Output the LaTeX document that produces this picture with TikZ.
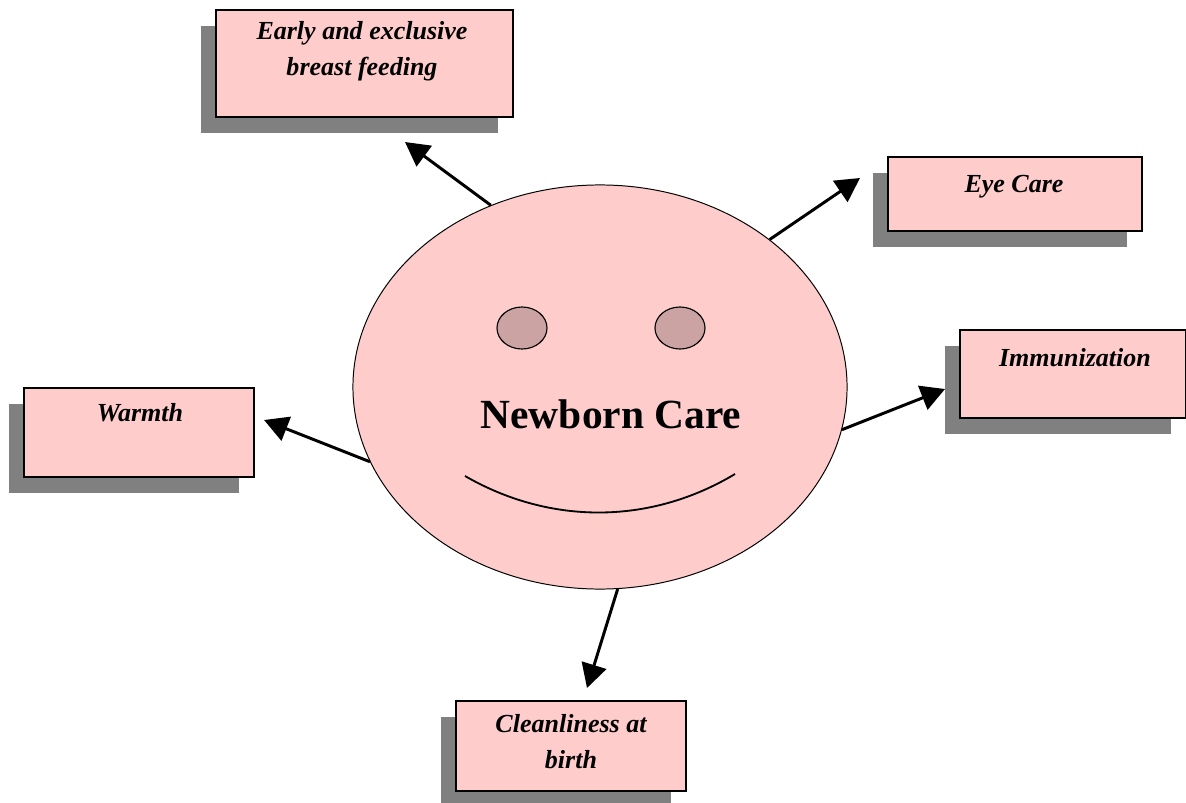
\documentclass[tikz,border=0pt]{standalone}
\usepackage{fontspec}
\setmainfont{Liberation Serif}
\usetikzlibrary{arrows.meta, positioning, shapes.geometric, shadows}
\definecolor{facepink}{HTML}{FFCCCC}
\definecolor{eyebrown}{HTML}{CCA3A3}
\definecolor{shadegray}{HTML}{808080}

\begin{document}
\begin{tikzpicture}[
      x=0.025cm, y=-0.025cm,
      card/.style={draw, fill=facepink, line width=0.9pt, inner sep=0pt,
                   drop shadow={shadow xshift=-0.375cm, shadow yshift=-0.39cm,
                                fill=shadegray, opacity=1}},
      cardtext/.style={anchor=base, align=center, inner sep=0pt,
                       font=\fontsize{18.5}{25}\selectfont\bfseries\itshape},
      eyeball/.style={ellipse, draw, fill=eyebrown, line width=0.8pt,
                      minimum width=1.25cm, minimum height=1.05cm, inner sep=0pt},
      arr/.style={-{Triangle[length=17pt, width=18pt]}, line width=2.1pt}
    ]
    \useasboundingbox (0,0) rectangle (1186,803);
    % the face
    \node[ellipse, draw, fill=facepink, line width=0.7pt, inner sep=0pt,
          minimum width=12.35cm, minimum height=10.1cm] (face) at (600,387) {};
    \node[eyeball] (leye) at (522,328) {};
    \node[eyeball] (reye) at (680,328) {};
    \node[anchor=base, inner sep=0pt, font=\fontsize{29.5}{34}\selectfont\bfseries]
         (title) at (611,428) {Newborn Care};
    \draw[line width=1.3pt] (465,476) .. controls (550,525) and (650,525) .. (735,474);
    % the cards
    \node[card, minimum width=7.425cm, minimum height=2.675cm] (feed) at (364.5,63.5) {};
    \node[card, minimum width=6.35cm, minimum height=1.85cm] (eyecare) at (1015,194) {};
    \node[card, minimum width=5.65cm, minimum height=2.2cm] (immun) at (1073,374) {};
    \node[card, minimum width=5.75cm, minimum height=2.225cm] (warmth) at (139,432.5) {};
    \node[card, minimum width=5.75cm, minimum height=2.25cm] (clean) at (571,746) {};
    \node[cardtext] (feedtxt) at (362,75) {Early and exclusive\\breast feeding};
    \node[cardtext] (eyetxt) at (1014,192) {Eye Care};
    \node[cardtext] (immuntxt) at (1075,366) {Immunization};
    \node[cardtext] (warmtxt) at (140,421) {Warmth};
    \node[cardtext] (cleantxt) at (571,768) {Cleanliness at\\birth};
    % arrow ends
    \coordinate (tofeed) at (405,142);
    \coordinate (toeye) at (860,178);
    \coordinate (toimmun) at (945,389);
    \coordinate (towarm) at (264,420);
    \coordinate (toclean) at (587,688);
    \draw[arr] (face.121.6) -- (tofeed);
    \draw[arr] (face.41.4) -- (toeye);
    \draw[arr] (face.-10.2) -- (toimmun);
    \draw[arr] (face.198.3) -- (towarm);
    \draw[arr] (face.-85) -- (toclean);
  \end{tikzpicture}
\end{document}
